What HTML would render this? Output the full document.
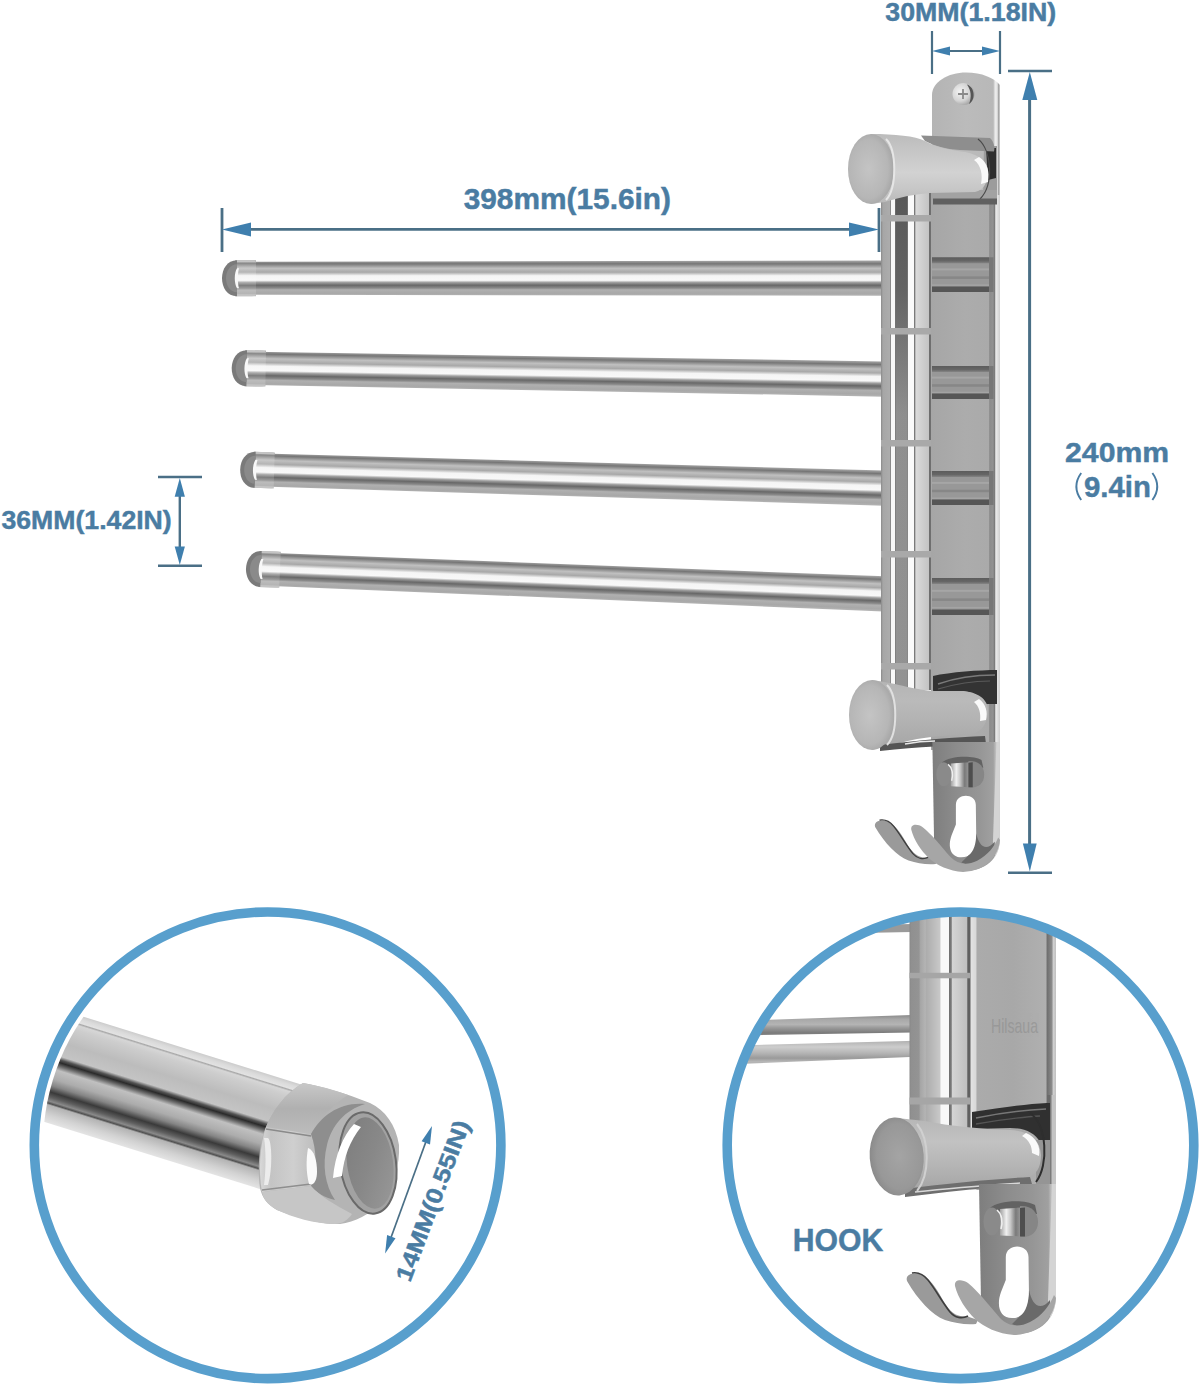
<!DOCTYPE html>
<html><head><meta charset="utf-8"><style>
html,body{margin:0;padding:0;background:#fff;width:1201px;height:1387px;overflow:hidden;}
svg{display:block;}
text{font-family:"Liberation Sans",sans-serif;font-weight:bold;fill:#4a7ca2;stroke:#4a7ca2;stroke-width:0.45px;}
</style></head><body>
<svg width="1201" height="1387" viewBox="0 0 1201 1387">
<defs>
<linearGradient id="gBar" x1="0" y1="0" x2="0" y2="1">
<stop offset="0" stop-color="#a8a8a8"/>
<stop offset="0.09" stop-color="#767676"/>
<stop offset="0.22" stop-color="#c0c0c0"/>
<stop offset="0.33" stop-color="#a8a8a8"/>
<stop offset="0.43" stop-color="#f5f5f5"/>
<stop offset="0.56" stop-color="#f8f8f8"/>
<stop offset="0.62" stop-color="#a0a0a0"/>
<stop offset="0.70" stop-color="#686868"/>
<stop offset="0.78" stop-color="#8a8a8a"/>
<stop offset="0.83" stop-color="#b0b0b0"/>
<stop offset="0.93" stop-color="#a8a8a8"/>
<stop offset="1" stop-color="#b4b4b4"/>
</linearGradient>
<linearGradient id="gPole" x1="0" y1="0" x2="1" y2="0">
<stop offset="0" stop-color="#8a8a8a"/>
<stop offset="0.04" stop-color="#a6a6a6"/>
<stop offset="0.17" stop-color="#acacac"/>
<stop offset="0.19" stop-color="#8a8a8a"/>
<stop offset="0.21" stop-color="#f8f8f8"/>
<stop offset="0.27" stop-color="#f8f8f8"/>
<stop offset="0.29" stop-color="#808080"/>
<stop offset="0.31" stop-color="#939393"/>
<stop offset="0.51" stop-color="#929292"/>
<stop offset="0.53" stop-color="#888888"/>
<stop offset="0.55" stop-color="#fafafa"/>
<stop offset="0.65" stop-color="#fafafa"/>
<stop offset="0.67" stop-color="#7a7a7a"/>
<stop offset="0.70" stop-color="#dadada"/>
<stop offset="0.95" stop-color="#c4c4c4"/>
<stop offset="0.97" stop-color="#6e6e6e"/>
<stop offset="1" stop-color="#707070"/>
</linearGradient>
<linearGradient id="gPlate" x1="0" y1="0" x2="1" y2="0">
<stop offset="0" stop-color="#a6a6a6"/>
<stop offset="0.5" stop-color="#acacac"/>
<stop offset="0.835" stop-color="#aaaaaa"/>
<stop offset="0.85" stop-color="#8c8c8c"/>
<stop offset="0.9" stop-color="#929292"/>
<stop offset="0.92" stop-color="#7a7a7a"/>
<stop offset="0.94" stop-color="#ececec"/>
<stop offset="1" stop-color="#d0d0d0"/>
</linearGradient>
<linearGradient id="gPlateTop" x1="0" y1="0" x2="1" y2="0">
<stop offset="0" stop-color="#b4b4b4"/>
<stop offset="0.5" stop-color="#bbbbbb"/>
<stop offset="0.9" stop-color="#b8b8b8"/>
<stop offset="0.93" stop-color="#ececec"/>
<stop offset="0.96" stop-color="#e4e4e4"/>
<stop offset="0.975" stop-color="#a0a0a0"/>
<stop offset="1" stop-color="#d0d0d0"/>
</linearGradient>
<linearGradient id="gKnob" x1="0" y1="0" x2="0" y2="1">
<stop offset="0" stop-color="#bcbcbc"/>
<stop offset="0.25" stop-color="#c6c6c6"/>
<stop offset="0.55" stop-color="#d2d2d2"/>
<stop offset="0.8" stop-color="#c6c6c6"/>
<stop offset="1" stop-color="#b8b8b8"/>
</linearGradient>
<linearGradient id="gKnobB" x1="0" y1="0" x2="0" y2="1">
<stop offset="0" stop-color="#b4b4b4"/>
<stop offset="0.3" stop-color="#bababa"/>
<stop offset="0.6" stop-color="#b2b2b2"/>
<stop offset="0.9" stop-color="#a8a8a8"/>
<stop offset="1" stop-color="#a0a0a0"/>
</linearGradient>
<radialGradient id="gCap" cx="0.45" cy="0.5" r="0.6">
<stop offset="0" stop-color="#c4c4c4"/>
<stop offset="0.7" stop-color="#b6b6b6"/>
<stop offset="1" stop-color="#a0a0a0"/>
</radialGradient>
<linearGradient id="gHook" x1="0" y1="0" x2="1" y2="0">
<stop offset="0" stop-color="#8a8a8a"/>
<stop offset="0.3" stop-color="#9a9a9a"/>
<stop offset="0.7" stop-color="#a4a4a4"/>
<stop offset="0.9" stop-color="#b0b0b0"/>
<stop offset="1" stop-color="#cfcfcf"/>
</linearGradient>
<linearGradient id="gBigBar" x1="0" y1="0" x2="0" y2="1">
<stop offset="0" stop-color="#cccccc"/>
<stop offset="0.03" stop-color="#dadada"/>
<stop offset="0.065" stop-color="#e2e2e2"/>
<stop offset="0.075" stop-color="#a8a8a8"/>
<stop offset="0.09" stop-color="#d6d6d6"/>
<stop offset="0.134" stop-color="#cdcdcd"/>
<stop offset="0.28" stop-color="#bcbcbc"/>
<stop offset="0.40" stop-color="#c4c4c4"/>
<stop offset="0.43" stop-color="#555555"/>
<stop offset="0.455" stop-color="#2a2a2a"/>
<stop offset="0.49" stop-color="#707070"/>
<stop offset="0.526" stop-color="#c0c0c0"/>
<stop offset="0.612" stop-color="#acacac"/>
<stop offset="0.672" stop-color="#858585"/>
<stop offset="0.73" stop-color="#3a3a3a"/>
<stop offset="0.776" stop-color="#606060"/>
<stop offset="0.81" stop-color="#8a8a8a"/>
<stop offset="0.83" stop-color="#505050"/>
<stop offset="0.845" stop-color="#b4b4b4"/>
<stop offset="0.93" stop-color="#d2d2d2"/>
<stop offset="1" stop-color="#e4e4e4"/>
</linearGradient>
<linearGradient id="gCollar" x1="0" y1="0" x2="0" y2="1">
<stop offset="0" stop-color="#c8c8c8"/>
<stop offset="0.3" stop-color="#b4b4b4"/>
<stop offset="0.5" stop-color="#a0a0a0"/>
<stop offset="0.7" stop-color="#b8b8b8"/>
<stop offset="1" stop-color="#cccccc"/>
</linearGradient>
<radialGradient id="gDome" cx="0.3" cy="0.5" r="0.8">
<stop offset="0" stop-color="#b0b0b0"/>
<stop offset="0.6" stop-color="#c4c4c4"/>
<stop offset="1" stop-color="#d4d4d4"/>
</radialGradient>
<linearGradient id="gEnd" x1="0" y1="0" x2="1" y2="1">
<stop offset="0" stop-color="#7c7c7c"/>
<stop offset="0.5" stop-color="#888888"/>
<stop offset="1" stop-color="#9a9a9a"/>
</linearGradient>
<linearGradient id="gPoleR" x1="0" y1="0" x2="1" y2="0">
<stop offset="0" stop-color="#888888"/>
<stop offset="0.03" stop-color="#909090"/>
<stop offset="0.16" stop-color="#949494"/>
<stop offset="0.17" stop-color="#a4a4a4"/>
<stop offset="0.26" stop-color="#b4b4b4"/>
<stop offset="0.27" stop-color="#acacac"/>
<stop offset="0.50" stop-color="#c8c8c8"/>
<stop offset="0.515" stop-color="#f8f8f8"/>
<stop offset="0.64" stop-color="#f8f8f8"/>
<stop offset="0.655" stop-color="#707070"/>
<stop offset="0.685" stop-color="#7a7a7a"/>
<stop offset="0.70" stop-color="#d4d4d4"/>
<stop offset="0.94" stop-color="#c0c0c0"/>
<stop offset="0.955" stop-color="#606060"/>
<stop offset="1" stop-color="#606060"/>
</linearGradient>
<linearGradient id="gPlateR" x1="0" y1="0" x2="1" y2="0">
<stop offset="0" stop-color="#e4e4e4"/>
<stop offset="0.07" stop-color="#d8d8d8"/>
<stop offset="0.08" stop-color="#ababab"/>
<stop offset="0.5" stop-color="#a8a8a8"/>
<stop offset="0.88" stop-color="#b0b0b0"/>
<stop offset="0.9" stop-color="#707070"/>
<stop offset="0.95" stop-color="#8a8a8a"/>
<stop offset="0.97" stop-color="#d0d0d0"/>
<stop offset="1" stop-color="#c0c0c0"/>
</linearGradient>
<linearGradient id="gSBarA" x1="0" y1="0" x2="0" y2="1">
<stop offset="0" stop-color="#8a8a8a"/>
<stop offset="0.2" stop-color="#a8a8a8"/>
<stop offset="0.45" stop-color="#b4b4b4"/>
<stop offset="0.6" stop-color="#9a9a9a"/>
<stop offset="0.85" stop-color="#7a7a7a"/>
<stop offset="1" stop-color="#8e8e8e"/>
</linearGradient>
<linearGradient id="gSBarB" x1="0" y1="0" x2="0" y2="1">
<stop offset="0" stop-color="#b0b0b0"/>
<stop offset="0.25" stop-color="#cdcdcd"/>
<stop offset="0.5" stop-color="#b4b4b4"/>
<stop offset="0.7" stop-color="#9a9a9a"/>
<stop offset="0.85" stop-color="#b8b8b8"/>
<stop offset="1" stop-color="#a0a0a0"/>
</linearGradient>
<linearGradient id="gKnobR" x1="0" y1="0" x2="0" y2="1">
<stop offset="0" stop-color="#b6b6b6"/>
<stop offset="0.3" stop-color="#c2c2c2"/>
<stop offset="0.55" stop-color="#b8b8b8"/>
<stop offset="0.8" stop-color="#acacac"/>
<stop offset="1" stop-color="#a0a0a0"/>
</linearGradient>
<radialGradient id="gCapR" cx="0.55" cy="0.5" r="0.6">
<stop offset="0" stop-color="#a4a4a4"/>
<stop offset="0.7" stop-color="#989898"/>
<stop offset="1" stop-color="#858585"/>
</radialGradient>
<linearGradient id="gHookR" x1="0" y1="0" x2="1" y2="0">
<stop offset="0" stop-color="#7e7e7e"/>
<stop offset="0.35" stop-color="#8c8c8c"/>
<stop offset="0.7" stop-color="#969696"/>
<stop offset="0.9" stop-color="#a0a0a0"/>
<stop offset="0.96" stop-color="#d0d0d0"/>
<stop offset="1" stop-color="#b0b0b0"/>
</linearGradient>
<linearGradient id="gPin" x1="0" y1="0" x2="1" y2="0">
<stop offset="0" stop-color="#a0a0a0"/>
<stop offset="0.3" stop-color="#f0f0f0"/>
<stop offset="0.5" stop-color="#c8c8c8"/>
<stop offset="0.75" stop-color="#7a7a7a"/>
<stop offset="1" stop-color="#9a9a9a"/>
</linearGradient>
<linearGradient id="gBandTop" x1="0" y1="0" x2="0" y2="1">
<stop offset="0" stop-color="#5c5c5c"/>
<stop offset="0.6" stop-color="#666"/>
<stop offset="1" stop-color="#858585"/>
</linearGradient>
<radialGradient id="gScrew" cx="0.35" cy="0.4" r="0.7">
<stop offset="0" stop-color="#f4f4f4"/>
<stop offset="0.6" stop-color="#d4d4d4"/>
<stop offset="1" stop-color="#9a9a9a"/>
</radialGradient>
<linearGradient id="gCollarTop" x1="0" y1="0" x2="0" y2="1">
<stop offset="0" stop-color="#c8c8c8"/>
<stop offset="0.5" stop-color="#b0b0b0"/>
<stop offset="1" stop-color="#bcbcbc"/>
</linearGradient>
<linearGradient id="gCollarBand" x1="0" y1="0" x2="1" y2="0">
<stop offset="0" stop-color="#d8d8d8"/>
<stop offset="0.2" stop-color="#c4c4c4"/>
<stop offset="0.6" stop-color="#cfcfcf"/>
<stop offset="1" stop-color="#bdbdbd"/>
</linearGradient>
<linearGradient id="gPoleDark" x1="0" y1="0" x2="0" y2="1">
<stop offset="0" stop-color="#444" stop-opacity="0.75"/>
<stop offset="0.2" stop-color="#444" stop-opacity="0.6"/>
<stop offset="0.45" stop-color="#444" stop-opacity="0.05"/>
<stop offset="1" stop-color="#444" stop-opacity="0"/>
</linearGradient>
<clipPath id="cL"><circle cx="267.6" cy="1145.3" r="224.5"/></clipPath>
<clipPath id="cR"><circle cx="960.5" cy="1145.3" r="230"/></clipPath>
</defs>

<!-- ===== DIMENSIONS (top) ===== -->
<g id="dims" stroke="#4a6f86" fill="#3f7fae">
  <text x="885.3" y="20.6" textLength="170.9" lengthAdjust="spacingAndGlyphs" font-size="24.96" stroke="none">30MM(1.18IN)</text>
  <text x="463.7" y="208.9" textLength="207.3" lengthAdjust="spacingAndGlyphs" font-size="29.36" stroke="none">398mm(15.6in)</text>
  <text x="1065.1" y="462.3" textLength="104" lengthAdjust="spacingAndGlyphs" font-size="28.51" stroke="none">240mm</text>
  <text x="1083.9" y="497.3" textLength="67" lengthAdjust="spacingAndGlyphs" font-size="29.22" stroke="none">9.4in</text>
  <path d="M1081.2,473 Q1071.5,486.5 1081.2,500" fill="none" stroke="#4a7ca2" stroke-width="1.9"/>
  <path d="M1152.4,473 Q1162.1,486.5 1152.4,500" fill="none" stroke="#4a7ca2" stroke-width="1.9"/>
  <text x="1.5" y="528.5" textLength="170.2" lengthAdjust="spacingAndGlyphs" font-size="25.53" stroke="none">36MM(1.42IN)</text>
  <text x="792.8" y="1250.8" textLength="90.5" lengthAdjust="spacingAndGlyphs" font-size="31.67" stroke="none">HOOK</text>
  <text transform="translate(410,1283) rotate(-69.3)" x="0" y="0" textLength="170" lengthAdjust="spacingAndGlyphs" font-size="23" stroke="none">14MM(0.55IN)</text>
  <line x1="428" y1="1136" x2="389" y2="1243" stroke-width="1.7"/>
  <polygon points="432,1126 430,1144.5 421.6,1141.3" stroke="none"/>
  <polygon points="385.1,1253.6 395.5,1238.3 387.1,1235.1" stroke="none"/>
  <!-- 30mm -->
  <g stroke-width="2.2" fill="none">
    <line x1="932" y1="31" x2="932" y2="74"/>
    <line x1="1000" y1="31" x2="1000" y2="74"/>
    <line x1="945" y1="51" x2="987" y2="51"/>
  </g>
  <polygon points="932,51 950,46.6 950,55.6" stroke="none"/>
  <polygon points="1000,51 982,46.6 982,55.6" stroke="none"/>
  <!-- 240mm -->
  <g stroke-width="2.6" fill="none">
    <line x1="1008" y1="71" x2="1052" y2="71"/>
    <line x1="1008" y1="872.8" x2="1052" y2="872.8"/>
    <line x1="1029.6" y1="95" x2="1029.6" y2="850" stroke-width="3"/>
  </g>
  <polygon points="1029.8,72 1037.3,100 1022.3,100" stroke="none"/>
  <polygon points="1029.8,871.5 1036.7,843.6 1022.9,843.6" stroke="none"/>
  <!-- 398mm -->
  <g stroke-width="2.8" fill="none">
    <line x1="222" y1="208" x2="222" y2="252"/>
    <line x1="879" y1="208" x2="879" y2="252"/>
    <line x1="245" y1="229.4" x2="856" y2="229.4"/>
  </g>
  <polygon points="222,229.4 251,222.4 251,236.4" stroke="none"/>
  <polygon points="879,229.4 849,222.4 849,236.4" stroke="none"/>
  <!-- 36mm -->
  <g stroke-width="2.4" fill="none">
    <line x1="158" y1="477" x2="202" y2="477"/>
    <line x1="158" y1="565.8" x2="202" y2="565.8"/>
    <line x1="179.8" y1="490" x2="179.8" y2="552"/>
  </g>
  <polygon points="179.8,478 184.9,496.7 174.7,496.7" stroke="none"/>
  <polygon points="179.8,565 184.9,546.5 174.7,546.5" stroke="none"/>
</g>

<!-- ===== PRODUCT (main) ===== -->
<g id="main">
  <!-- top plate -->
  <path d="M932,205 V95 C932,82 948,72.5 966,72.5 C982,72.5 994,78 1000,85 V205 Z" fill="url(#gPlateTop)"/>
  <!-- screw -->
  <circle cx="963.5" cy="94" r="11" fill="url(#gScrew)"/>
  <path d="M967,84.5 C975,87 976,100 969,104 C972,97 971,90 967,84.5 Z" fill="#555"/>
  <path d="M958,94 H968 M963,89 V99" stroke="#8a8a8a" stroke-width="1.8"/>
  <!-- middle plate -->
  <rect x="931" y="195" width="69" height="555" fill="url(#gPlate)"/>
  <g id="bands">
    <g transform="translate(0,257.3)">
      <rect x="932" y="0" width="57" height="34.7" fill="#989898"/>
      <rect x="932" y="0" width="57" height="6" fill="url(#gBandTop)"/>
      <rect x="932" y="11.1" width="57" height="2" fill="#a6a6a6"/>
      <rect x="932" y="19.1" width="57" height="2.5" fill="#878787"/>
      <rect x="932" y="27.1" width="57" height="1.5" fill="#a4a4a4"/>
      <rect x="932" y="29.2" width="57" height="5.5" fill="#565656"/>
      <rect x="989" y="0" width="4.5" height="34.7" fill="#777"/>
    </g>
    <g transform="translate(0,366)">
      <rect x="932" y="0" width="57" height="33.0" fill="#989898"/>
      <rect x="932" y="0" width="57" height="6" fill="url(#gBandTop)"/>
      <rect x="932" y="10.6" width="57" height="2" fill="#a6a6a6"/>
      <rect x="932" y="18.2" width="57" height="2.5" fill="#878787"/>
      <rect x="932" y="25.7" width="57" height="1.5" fill="#a4a4a4"/>
      <rect x="932" y="27.5" width="57" height="5.5" fill="#565656"/>
      <rect x="989" y="0" width="4.5" height="33.0" fill="#777"/>
    </g>
    <g transform="translate(0,471)">
      <rect x="932" y="0" width="57" height="34.0" fill="#989898"/>
      <rect x="932" y="0" width="57" height="6" fill="url(#gBandTop)"/>
      <rect x="932" y="10.9" width="57" height="2" fill="#a6a6a6"/>
      <rect x="932" y="18.7" width="57" height="2.5" fill="#878787"/>
      <rect x="932" y="26.5" width="57" height="1.5" fill="#a4a4a4"/>
      <rect x="932" y="28.5" width="57" height="5.5" fill="#565656"/>
      <rect x="989" y="0" width="4.5" height="34.0" fill="#777"/>
    </g>
    <g transform="translate(0,578)">
      <rect x="932" y="0" width="57" height="37.0" fill="#989898"/>
      <rect x="932" y="0" width="57" height="6" fill="url(#gBandTop)"/>
      <rect x="932" y="11.8" width="57" height="2" fill="#a6a6a6"/>
      <rect x="932" y="20.4" width="57" height="2.5" fill="#878787"/>
      <rect x="932" y="28.9" width="57" height="1.5" fill="#a4a4a4"/>
      <rect x="932" y="31.5" width="57" height="5.5" fill="#565656"/>
      <rect x="989" y="0" width="4.5" height="37.0" fill="#777"/>
    </g>
  </g>
  <!-- bars -->
  <g id="bars">
    <g transform="translate(222,278.2) rotate(0.0)">
      <path d="M14,-16.5 L662.0,-17.6 L662.0,17.6 L14,16.5 Z" fill="url(#gBar)"/>
      <rect x="13" y="-18" width="21" height="36" fill="url(#gBar)"/>
      <rect x="13" y="-18" width="21" height="36" fill="#fff" opacity="0.15"/>
      <path d="M13,-18 H30 C33,-18 34,-17 34,-16 H13 Z M13,18 H30 C33,18 34,17 34,16 H13 Z" fill="#c4c4c4"/>
      <path d="M15,-18 C5,-18 0,-9 0,0 C0,9 5,18 15,18 Z" fill="#7a7a7a"/>
      <path d="M15,-14 C8,-14 4,-7 4,0 C4,7 8,14 15,14 Z" fill="#8a8a8a"/>
      <path d="M15,-10 C12,-5 12,5 15,10 L17,10 C15.5,5 15.5,-5 17,-10 Z" fill="#f8f8f8"/>
    </g>
    <g transform="translate(231.7,368) rotate(0.97)">
      <path d="M14,-16.5 L652.4,-17.6 L652.4,17.6 L14,16.5 Z" fill="url(#gBar)"/>
      <rect x="13" y="-18" width="21" height="36" fill="url(#gBar)"/>
      <rect x="13" y="-18" width="21" height="36" fill="#fff" opacity="0.15"/>
      <path d="M13,-18 H30 C33,-18 34,-17 34,-16 H13 Z M13,18 H30 C33,18 34,17 34,16 H13 Z" fill="#c4c4c4"/>
      <path d="M15,-18 C5,-18 0,-9 0,0 C0,9 5,18 15,18 Z" fill="#7a7a7a"/>
      <path d="M15,-14 C8,-14 4,-7 4,0 C4,7 8,14 15,14 Z" fill="#8a8a8a"/>
      <path d="M15,-10 C12,-5 12,5 15,10 L17,10 C15.5,5 15.5,-5 17,-10 Z" fill="#f8f8f8"/>
    </g>
    <g transform="translate(240.2,469.4) rotate(1.67)">
      <path d="M14,-16.5 L644.1,-17.6 L644.1,17.6 L14,16.5 Z" fill="url(#gBar)"/>
      <rect x="13" y="-18" width="21" height="36" fill="url(#gBar)"/>
      <rect x="13" y="-18" width="21" height="36" fill="#fff" opacity="0.15"/>
      <path d="M13,-18 H30 C33,-18 34,-17 34,-16 H13 Z M13,18 H30 C33,18 34,17 34,16 H13 Z" fill="#c4c4c4"/>
      <path d="M15,-18 C5,-18 0,-9 0,0 C0,9 5,18 15,18 Z" fill="#7a7a7a"/>
      <path d="M15,-14 C8,-14 4,-7 4,0 C4,7 8,14 15,14 Z" fill="#8a8a8a"/>
      <path d="M15,-10 C12,-5 12,5 15,10 L17,10 C15.5,5 15.5,-5 17,-10 Z" fill="#f8f8f8"/>
    </g>
    <g transform="translate(246,568.4) rotate(2.29)">
      <path d="M14,-16.5 L638.5,-17.6 L638.5,17.6 L14,16.5 Z" fill="url(#gBar)"/>
      <rect x="13" y="-18" width="21" height="36" fill="url(#gBar)"/>
      <rect x="13" y="-18" width="21" height="36" fill="#fff" opacity="0.15"/>
      <path d="M13,-18 H30 C33,-18 34,-17 34,-16 H13 Z M13,18 H30 C33,18 34,17 34,16 H13 Z" fill="#c4c4c4"/>
      <path d="M15,-18 C5,-18 0,-9 0,0 C0,9 5,18 15,18 Z" fill="#7a7a7a"/>
      <path d="M15,-14 C8,-14 4,-7 4,0 C4,7 8,14 15,14 Z" fill="#8a8a8a"/>
      <path d="M15,-10 C12,-5 12,5 15,10 L17,10 C15.5,5 15.5,-5 17,-10 Z" fill="#f8f8f8"/>
    </g>
  </g>
  <!-- pole -->
  <rect x="881" y="190" width="50" height="500" fill="url(#gPole)"/>
  <rect x="895.5" y="190" width="12" height="500" fill="url(#gPoleDark)"/>
  <g fill="#a9a9a9">
    <rect x="881" y="215" width="50" height="6.5"/>
    <rect x="881" y="328" width="50" height="6.5"/>
    <rect x="881" y="440" width="50" height="6.5"/>
    <rect x="881" y="551" width="50" height="6.5"/>
    <rect x="881" y="663" width="50" height="6.5"/>
  </g>
  <!-- top knob -->
  <path d="M984,146 L997,146 L997,202 L983,202 Z" fill="#9c9c9c"/>
  <path d="M986,148 L996,148 L996,178 L988,180 Z" fill="#2e2e2e"/>
  <path d="M921,135.5 L990,138 C994,142 995,148 994,151.5 L960,150 C945,149 935,146 925,141 Z" fill="#8e8e8e"/>
  <rect x="931" y="190" width="66" height="10" fill="#a2a2a2"/>
  <path d="M871,134 C895,134 915,136 925,141 C935,147 950,150 965,152 C980,155 988,162 988,172 C988,182 984,190 975,192 L930,193 C915,194 900,197 885,202 L871,204 Z" fill="url(#gKnob)"/>
  <path d="M979,157 C987,162 990,172 988,182 L981,184 C983,175 981,165 974,160 Z" fill="#fafafa"/>
  <path d="M978,139 C992,150 994,185 980,199" fill="none" stroke="#4a4a4a" stroke-width="1.2"/>
  <rect x="933" y="198.5" width="64" height="6" fill="#606060"/>
  <ellipse cx="871" cy="169" rx="23" ry="35" fill="url(#gCap)"/>
  <path d="M886,139 C897,150 897,188 886,200" fill="none" stroke="#e6e6e6" stroke-width="2"/>
  <!-- bottom knob -->
  <path d="M933,676 C950,672 980,670 997,670 L997,704 L985,704 C980,695 970,691 960,691 L933,691 Z" fill="#333"/>
  <path d="M938,684 C955,678 975,675 995,675" fill="none" stroke="#7a7a7a" stroke-width="1.5"/>
  <path d="M938,689 C955,684 975,681 990,681" fill="none" stroke="#5a5a5a" stroke-width="1.2"/>
  <path d="M872,680 C900,684 915,690 935,691 L960,691 C978,691 988,700 988,710 C988,722 982,733 970,734 L935,736.5 C910,739 890,746 872,750 Z" fill="url(#gKnobB)"/>
  <path d="M979,699 C986,704 988,712 986,720 L980,721 C981,713 979,706 974,702 Z" fill="#fafafa"/>
  <path d="M880,745 C920,740 955,737 985,736 L986,744 C950,745 920,747 880,751 Z" fill="#555"/>
  <path d="M905,744 C915,742 925,741 935,741" fill="none" stroke="#e8e8e8" stroke-width="1.5"/>
  <ellipse cx="872" cy="715" rx="23" ry="35" fill="url(#gCap)"/>
  <path d="M887,685 C898,696 898,734 887,745" fill="none" stroke="#e0e0e0" stroke-width="2"/>
  <!-- hook (reuse from right circle) -->
  <use href="#hookPlate" transform="matrix(0.878 0 0 0.86 72.8 -276.2)"/>
  <use href="#hookProngBack" transform="translate(6,1.5) matrix(0.878 0 0 0.86 72.8 -276.2)"/>
  <use href="#hookProngFront" transform="matrix(0.878 0 0 0.86 72.8 -276.2)"/>
</g>

<!-- ===== LEFT CIRCLE CONTENT ===== -->
<g clip-path="url(#cL)">
  <g transform="translate(100,1080) rotate(17.3)">
    <rect x="-200" y="-55.5" width="395" height="112" fill="url(#gBigBar)"/>
  </g>
  <!-- cap (screen coords) -->
  <path d="M303,1083 C320,1086 345,1093 370,1103 C385,1110 396,1125 399,1145 C400,1165 394,1185 381,1203 C370,1214 355,1222 340,1224 C320,1225 295,1217 277,1210 C268,1205 262,1198 260,1188 C257,1165 260,1140 266,1127 C272,1112 285,1093 303,1083 Z" fill="#b4b4b4"/>
  <path d="M303,1083 C320,1086 335,1090 348,1095 C335,1103 320,1118 311,1134 L266,1127 C272,1112 285,1093 303,1083 Z" fill="url(#gCollarTop)"/>
  <path d="M266,1127 L311,1134 C317,1150 317,1170 311,1186 L262,1192 C258,1170 260,1145 266,1127 Z" fill="url(#gCollarBand)"/>
  <path d="M266,1129 L311,1136" stroke="#8a8a8a" stroke-width="1.5"/>
  <path d="M262,1190 L311,1184" stroke="#8e8e8e" stroke-width="1.5"/>
  <path d="M311,1134 C322,1115 340,1102 365,1104 C345,1110 332,1125 327,1145 C322,1165 325,1185 335,1200 C325,1198 315,1192 311,1186 C317,1170 317,1150 311,1134 Z" fill="#8e8e8e"/>
  <path d="M262,1192 L311,1186 C320,1196 335,1205 352,1214 C348,1220 342,1224 335,1224 C315,1224 292,1217 277,1210 C268,1205 263,1199 262,1192 Z" fill="#c6c6c6"/>
  <path d="M308,1148 C314,1150 317,1160 317,1172 C317,1180 314,1186 309,1184 C306,1172 306,1160 308,1148 Z" fill="#fbfbfb"/>
  <path d="M268,1138 C272,1140 273,1170 268,1185 L264,1185 C266,1170 266,1150 264,1138 Z" fill="#f0f0f0" opacity="0.9"/>
  <ellipse cx="368" cy="1163" rx="28" ry="51" fill="#a2a2a2" transform="rotate(-8 368 1163)"/>
  <ellipse cx="370" cy="1163" rx="23" ry="46" fill="url(#gEnd)" transform="rotate(-8 370 1163)"/>
  <ellipse cx="368" cy="1163" rx="28" ry="51" fill="none" stroke="#6a6a6a" stroke-width="2" transform="rotate(-8 368 1163)"/>
  <path d="M354,1124 C343,1136 335,1155 333,1178 L342,1176 C344,1156 350,1141 361,1127 Z" fill="#ffffff"/>
</g>

<!-- ===== RIGHT CIRCLE CONTENT ===== -->
<g clip-path="url(#cR)">
  <!-- tiny bar top-left -->
  <path d="M860,925 L912,924 L912,932 L860,933 Z" fill="#9a9a9a"/>
  <!-- bars -->
  <path d="M700,1022 L912,1015 L912,1032.5 L700,1036.2 Z" fill="url(#gSBarA)"/>
  <path d="M700,1046.5 L916,1040.8 L916,1056.7 L700,1065.6 Z" fill="url(#gSBarB)"/>
  <!-- plate -->
  <rect x="970" y="880" width="86" height="310" fill="url(#gPlateR)"/>
  <text x="991" y="1032.5" font-size="21" textLength="47" lengthAdjust="spacingAndGlyphs" style="font-weight:normal;fill:#8a8a8a;opacity:0.55;stroke:none">Hilsaua</text>
  <!-- dark band above knob -->
  <path d="M972,1112 C1000,1108 1025,1104 1047,1103 L1052,1103 L1052,1142 L1040,1142 C1035,1133 1025,1128 1010,1128 L972,1129 Z" fill="#303030"/>
  <path d="M976,1118 C1000,1113 1025,1110 1046,1109" fill="none" stroke="#777" stroke-width="1.6"/>
  <path d="M976,1124 C1000,1120 1020,1117 1040,1116" fill="none" stroke="#555" stroke-width="1.4"/>
  <path d="M1036,1140 L1052,1140 L1052,1187 L1036,1184 Z" fill="#959595"/>
  <rect x="1047" y="1095" width="4" height="8" fill="#6a6a6a"/>
  <rect x="1051" y="1095" width="5" height="95" fill="#c4c4c4"/>
  <rect x="1050" y="1095" width="1.5" height="95" fill="#7a7a7a"/>
  <!-- pole -->
  <rect x="909.5" y="880" width="61" height="252" fill="url(#gPoleR)"/>
  <rect x="909.5" y="972.8" width="61" height="5.5" fill="#a6a6a6"/>
  <rect x="909.5" y="1097.5" width="61" height="7" fill="#a6a6a6"/>
  <!-- knob body -->
  <path d="M897,1118 L925,1121 C950,1126 980,1129 1010,1130 C1030,1131 1040,1140 1041,1155 C1041,1168 1036,1176 1025,1178 C995,1181 950,1186 897,1195 Z" fill="url(#gKnobR)"/>
  <path d="M1026,1133 C1036,1137 1041,1147 1039,1156 L1032,1153 C1032,1146 1029,1140 1022,1136 Z" fill="#fafafa"/>
  <path d="M1030,1113 C1047,1125 1049,1165 1036,1182" fill="none" stroke="#2e2e2e" stroke-width="2"/>
  <path d="M905,1189 C950,1183 995,1179 1030,1177 L1032,1184 C995,1187 950,1191 905,1197 Z" fill="#6e6e6e"/>
  <path d="M915,1192 C950,1188 990,1185 1020,1183" fill="none" stroke="#d8d8d8" stroke-width="1.5"/>
  <ellipse cx="896.7" cy="1156.5" rx="27" ry="39" fill="url(#gCapR)" transform="rotate(-4 896.7 1156.5)"/>
  <path d="M917,1124 C930,1140 930,1175 917,1191" fill="none" stroke="#d0d0d0" stroke-width="2"/>
  <g id="hookR">
  <g id="hookPlate">
  <!-- hook plate -->
  <path d="M979,1184 H1056 V1295 C1056,1320 1040,1334 1014,1334 C996,1334 986,1322 981,1302 Z" fill="url(#gHookR)"/>
  <path d="M1052,1184 L1056,1184 L1056,1295 C1056,1305 1054,1312 1050,1318 L1048,1300 Z" fill="#d4d4d4"/>
  <!-- slot -->
  <path d="M1005.8,1257 C1005.8,1243 1028.5,1243 1028.5,1257 L1029,1296 C1029,1312 1022,1318 1012,1318 C1000,1318 996,1306 1001,1292 L1005.8,1280 Z" fill="#ffffff"/>
  <path d="M1029,1290 C1032,1305 1040,1312 1050,1300 L1050,1316 C1042,1328 1025,1330 1012,1324 L1020,1316 C1026,1312 1029,1302 1029,1290 Z" fill="#6a6a6a"/>
  <!-- pin -->
  <path d="M990,1208 C998,1200 1025,1199 1035,1205 L1037,1214 L994,1213 Z" fill="#626262"/>
  <path d="M1020,1206 C1031,1205 1038,1212 1038,1222 C1038,1232 1031,1238 1020,1237 Z" fill="#868686"/>
  <path d="M1000,1209 L1021,1207.5 L1021,1236.5 L1000,1235.5 Z" fill="url(#gPin)"/>
  <path d="M1020,1208 L1025,1207.5 L1025,1236.5 L1020,1236.5 Z" fill="#4e4e4e"/>
  <ellipse cx="992" cy="1221.5" rx="8.5" ry="14" fill="#8a8a8a"/>
  <path d="M997,1210 C1002,1214 1003,1222 1001,1229" fill="none" stroke="#f0f0f0" stroke-width="1.6"/>
  </g>
  <g id="hookProngs">
  <g id="hookProngBack">
  <!-- back prong -->
  <path d="M907,1281 C905,1274 914,1271 924,1276 C932,1281 938,1291 944,1302 C950,1312 958,1318 966,1316 L978,1320 L976,1324 C965,1325 955,1323 945,1320 C932,1315 918,1300 907,1281 Z" fill="#9a9a9a"/>
  <path d="M912,1273 C918,1272 924,1275 928,1280 C936,1290 942,1302 950,1312 C955,1318 962,1319 968,1316" fill="none" stroke="#3e3e3e" stroke-width="1.6"/>
  </g>
  <g id="hookProngFront">
  <!-- front prong -->
  <path d="M955,1286 C954,1279 962,1279 968,1283 C978,1291 988,1304 1000,1318 C1008,1326 1018,1328 1030,1322 C1042,1316 1050,1305 1054,1295 L1056,1298 C1054,1318 1040,1334 1014,1335 C998,1334 984,1327 975,1319 C966,1310 958,1298 955,1286 Z" fill="#a6a6a6"/>
  </g>
  </g>
  </g>
</g>

<!-- ===== CIRCLES ===== -->
<circle cx="267.6" cy="1145.3" r="233.3" fill="none" stroke="#589fcd" stroke-width="9.6"/>
<circle cx="960.5" cy="1145.3" r="233.3" fill="none" stroke="#589fcd" stroke-width="9.6"/>
</svg>
</body></html>
